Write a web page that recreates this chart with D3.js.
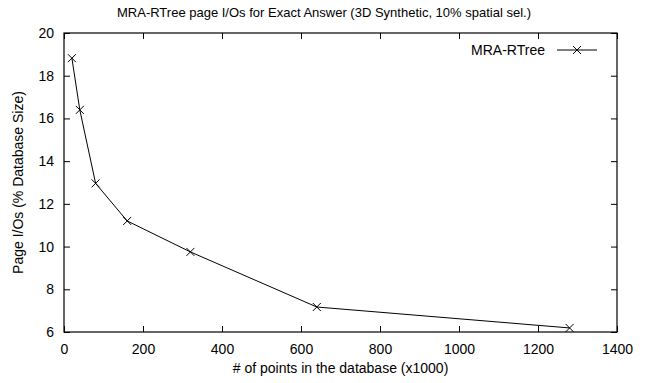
<!DOCTYPE html>
<html>
<head>
<meta charset="utf-8">
<script src="https://cdn.jsdelivr.net/npm/d3@7"></script>
<style>
  body { margin: 0; background: #fff; }
  svg { display: block; font-family: "Liberation Sans", Arial, sans-serif; }
  .axis path, .axis line { stroke: #000; }
  .axis text { font-size: 14px; fill: #000; }
</style>
</head>
<body>
<div id="chart"></div>
<script>
// MRA-RTree page I/Os vs database size
const points = [20, 40, 80, 160, 320, 640, 1280];
const pageIOs = [18.82, 16.4, 12.96, 11.2, 9.75, 7.17, 6.19];
const xTicks = [0, 200, 400, 600, 800, 1000, 1200, 1400];
const yTicks = [6, 8, 10, 12, 14, 16, 18, 20];

const width = 649, height = 383;
const margin = { top: 33, right: 32, bottom: 51, left: 64 };
const svg = d3.select("#chart").append("svg").attr("width", width).attr("height", height);

const x = d3.scaleLinear().domain([0, 1400]).range([margin.left, width - margin.right]);
const y = d3.scaleLinear().domain([6, 20]).range([height - margin.bottom, margin.top]);
const tk = 6;
const fmtInt = d3.format("d");

// frame
svg.append("rect").attr("x", x(0)).attr("y", y(20))
  .attr("width", x(1400) - x(0)).attr("height", y(6) - y(20))
  .attr("fill", "none").attr("stroke", "#000").attr("stroke-width", 1.2);

// axes with inward ticks (mirrored on top/right)
svg.append("g").attr("class", "axis").attr("transform", `translate(0,${y(6)})`)
  .call(d3.axisBottom(x).tickValues(xTicks).tickFormat(fmtInt).tickSizeInner(-tk).tickSizeOuter(0).tickPadding(12))
  .call(g => g.select(".domain").remove());
svg.append("g").attr("class", "axis").attr("transform", `translate(0,${y(20)})`)
  .call(d3.axisTop(x).tickValues(xTicks).tickSizeInner(-tk).tickSizeOuter(0).tickFormat(""))
  .call(g => g.select(".domain").remove());
svg.append("g").attr("class", "axis").attr("transform", `translate(${x(0)},0)`)
  .call(d3.axisLeft(y).tickValues(yTicks).tickFormat(fmtInt).tickSizeInner(-tk).tickSizeOuter(0).tickPadding(10))
  .call(g => g.select(".domain").remove());
svg.append("g").attr("class", "axis").attr("transform", `translate(${x(1400)},0)`)
  .call(d3.axisRight(y).tickValues(yTicks).tickSizeInner(-tk).tickSizeOuter(0).tickFormat(""))
  .call(g => g.select(".domain").remove());

// data line
const data = points.map((p, i) => ({ p, v: pageIOs[i] }));
const line = d3.line().x(d => x(d.p)).y(d => y(d.v));
svg.append("path").datum(data).attr("fill", "none").attr("stroke", "#000").attr("stroke-width", 1).attr("d", line);

const cross = (g, cx, cy) => {
  const s = 4;
  g.append("path").attr("d", `M${cx - s},${cy - s}L${cx + s},${cy + s}M${cx - s},${cy + s}L${cx + s},${cy - s}`)
    .attr("stroke", "#000").attr("stroke-width", 1).attr("fill", "none");
};
data.forEach(d => cross(svg, x(d.p), y(d.v)));

// legend
const ly = 50;
svg.append("text").attr("x", 545).attr("y", ly + 5).attr("text-anchor", "end")
  .attr("font-size", 14).text("MRA-RTree");
svg.append("line").attr("x1", 557).attr("x2", 597).attr("y1", ly).attr("y2", ly).attr("stroke", "#000");
cross(svg, 577, ly);

// titles
svg.append("text").attr("x", 324).attr("y", 17).attr("text-anchor", "middle")
  .attr("font-size", 13).text("MRA-RTree page I/Os for Exact Answer (3D Synthetic, 10% spatial sel.)");
svg.append("text").attr("x", x(700)).attr("y", 373).attr("text-anchor", "middle")
  .attr("font-size", 14).text("# of points in the database (x1000)");
svg.append("text").attr("transform", `translate(23,${(y(6) + y(20)) / 2}) rotate(-90)`)
  .attr("text-anchor", "middle").attr("font-size", 14).text("Page I/Os (% Database Size)");
</script>
</body>
</html>
